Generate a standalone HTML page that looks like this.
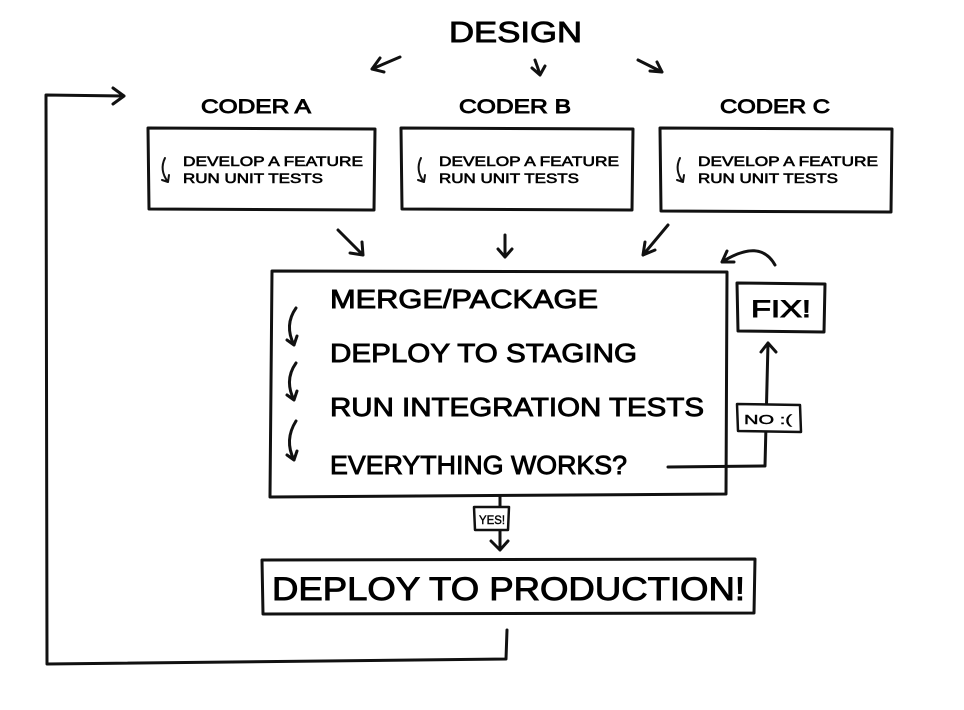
<!DOCTYPE html>
<html><head><meta charset="utf-8"><style>html,body{margin:0;padding:0;background:#fff}svg{display:block}</style></head><body>
<svg width="964" height="710" viewBox="0 0 964 710" xmlns="http://www.w3.org/2000/svg" font-family="Liberation Sans, sans-serif" fill="#000">
<g fill="none" stroke="#111" stroke-width="3" stroke-linecap="round" stroke-linejoin="round">
<path d="M400 57 L372 69 M372 69 L380 58 M372 69 L384 72"/>
<path d="M535 60 Q538 68 540 75 M540 75 L532 68 M540 75 L545 66"/>
<path d="M638 60 L662 72 M662 72 L650 71 M662 72 L657 62"/>
<path d="M148 128 L375 129 L374 210 L149 209 Z"/>
<path d="M401 128 L633 129 L632 210 L402 209 Z"/>
<path d="M660 128 L892 129 L891 212 L661 211 Z"/>
<path d="M165 158 Q159 170 168 182 M168 182 L162 180 M168 182 L169 175" stroke-width="2"/>
<path d="M421 158 Q415 170 424 182 M424 182 L418 180 M424 182 L425 175" stroke-width="2"/>
<path d="M680 158 Q674 170 683 182 M683 182 L677 180 M683 182 L684 175" stroke-width="2"/>
<path d="M338 230 L363 255 M363 255 L350 253 M363 255 L362 242"/>
<path d="M505 235 L505 257 M505 257 L498 249 M505 257 L512 249"/>
<path d="M668 225 L643 255 M643 255 L645 242 M643 255 L655 250"/>
<path d="M272 271 L727 272 L726 494 L270 497 Z"/>
<path d="M296 308 Q284 325 294 345 M294 345 L287 340 M294 345 L297 336"/>
<path d="M296 363 Q284 380 294 400 M294 400 L287 395 M294 400 L297 391"/>
<path d="M296 421 Q284 440 294 460 M294 460 L287 455 M294 460 L297 451"/>
<path d="M668 467 L765 466 L768 343 M768 343 L761 352 M768 343 L776 352"/>
<path d="M737 404 L800 405 L801 432 L738 431 Z" stroke-width="2.5" fill="#fff"/>
<path d="M737 283 L825 284 L824 332 L738 331 Z"/>
<path d="M775 265 Q760 238 722 262 M722 262 L734 262 M722 262 L727 251"/>
<path d="M500 497 L500 550 M500 550 L491 541 M500 550 L508 541"/>
<path d="M474 507 L509 507 L508 530 L475 530 Z" stroke-width="2.5" fill="#fff"/>
<path d="M262 560 L755 559 L754 613 L263 614 Z"/>
<path d="M507 630 L506 659 L47 664 L46 95 L124 96 M124 96 L113 88 M124 96 L113 104"/>
</g>
<g stroke="#000" stroke-width="0.9">
<text x="449" y="42" font-size="29" textLength="133" lengthAdjust="spacingAndGlyphs">DESIGN</text>
<g font-size="19">
<text x="201" y="113" textLength="110" lengthAdjust="spacingAndGlyphs">CODER A</text>
<text x="459" y="113" textLength="112" lengthAdjust="spacingAndGlyphs">CODER B</text>
<text x="720" y="113" textLength="110" lengthAdjust="spacingAndGlyphs">CODER C</text>
</g>
<g font-size="14" stroke-width="0.6">
<text x="183" y="166" textLength="180" lengthAdjust="spacingAndGlyphs">DEVELOP A FEATURE</text>
<text x="183" y="183" textLength="140" lengthAdjust="spacingAndGlyphs">RUN UNIT TESTS</text>
<text x="439" y="166" textLength="180" lengthAdjust="spacingAndGlyphs">DEVELOP A FEATURE</text>
<text x="439" y="183" textLength="140" lengthAdjust="spacingAndGlyphs">RUN UNIT TESTS</text>
<text x="698" y="166" textLength="180" lengthAdjust="spacingAndGlyphs">DEVELOP A FEATURE</text>
<text x="698" y="183" textLength="140" lengthAdjust="spacingAndGlyphs">RUN UNIT TESTS</text>
</g>
<g font-size="26">
<text x="330" y="308" textLength="268" lengthAdjust="spacingAndGlyphs">MERGE/PACKAGE</text>
<text x="330" y="362" textLength="307" lengthAdjust="spacingAndGlyphs">DEPLOY TO STAGING</text>
<text x="330" y="416" textLength="374" lengthAdjust="spacingAndGlyphs">RUN INTEGRATION TESTS</text>
<text x="330" y="474" textLength="297" lengthAdjust="spacingAndGlyphs">EVERYTHING WORKS?</text>
</g>
<text x="751" y="317" font-size="24" textLength="60" lengthAdjust="spacingAndGlyphs">FIX!</text>
<text x="744" y="424" font-size="13" stroke-width="0.4" textLength="48" lengthAdjust="spacingAndGlyphs">NO :(</text>
<text x="479" y="524" font-size="12" stroke-width="0.4" textLength="26" lengthAdjust="spacingAndGlyphs">YES!</text>
<text x="272" y="600" font-size="32" textLength="473" lengthAdjust="spacingAndGlyphs">DEPLOY TO PRODUCTION!</text>
</g>
</svg>
</body></html>
